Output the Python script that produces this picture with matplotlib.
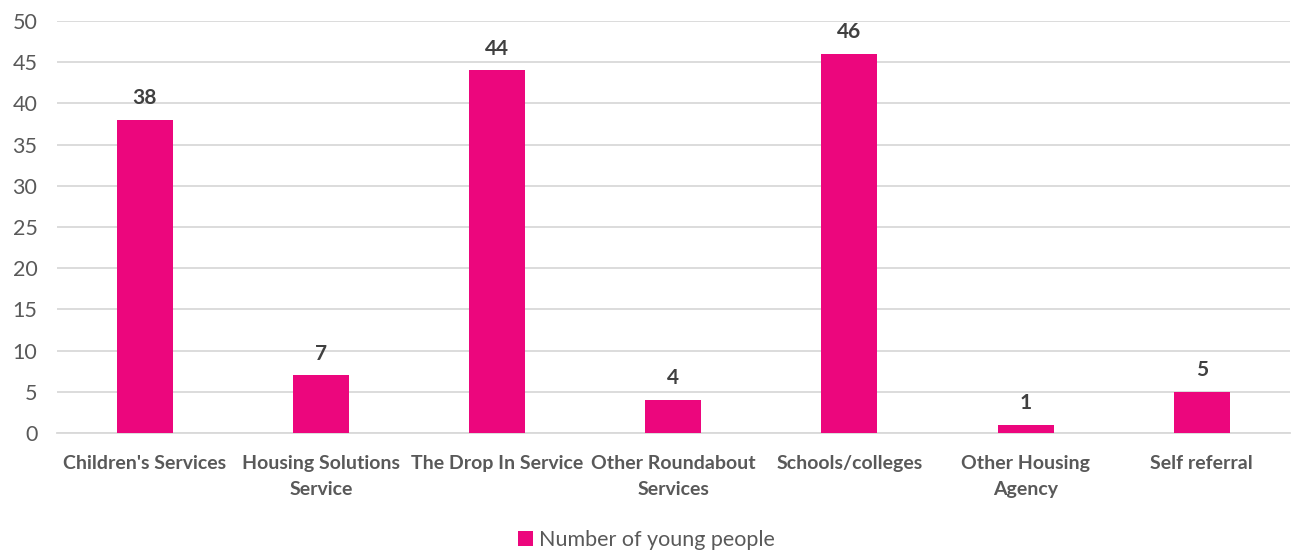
import matplotlib.pyplot as plt
import numpy as np

plt.rcParams['font.family'] = ['Lato', 'DejaVu Sans']

# data
categories = ["Children's Services", "Housing Solutions\nService", "The Drop In Service",
              "Other Roundabout\nServices", "Schools/colleges", "Other Housing\nAgency",
              "Self referral"]
values = [38, 7, 44, 4, 46, 1, 5]
series_name = "Number of young people"

pink = '#EC067D'
grid_c = '#D9D9D9'
text_c = '#595959'

fig = plt.figure(figsize=(12.93, 5.52), dpi=100)
ax = fig.add_axes([0.044, 0.2156, 0.9535, 0.7464])

x = np.arange(len(categories))
bars = ax.bar(x, values, width=0.318, color=pink, label=series_name, zorder=3)

# value labels above bars
for xi, v in zip(x, values):
    ax.text(xi, v + 1.4, str(v), ha='center', va='bottom', fontsize=15,
            fontweight='bold', color='#404040')

ax.set_xlim(-0.5, len(categories) - 0.5)
ax.set_ylim(0, 50)
ax.set_yticks(np.arange(0, 51, 5))
ax.yaxis.grid(True, color=grid_c, linewidth=1.3, zorder=0)
ax.set_xticks(x)
ax.set_xticklabels(categories, fontsize=14, fontweight='bold', color=text_c,
                   linespacing=1.6)
ax.tick_params(axis='y', labelsize=15.5, labelcolor=text_c, length=0, pad=14)
ax.tick_params(axis='x', length=0, pad=16)
for s in ['top', 'right', 'left']:
    ax.spines[s].set_visible(False)
ax.spines['bottom'].set_color(grid_c)
ax.spines['bottom'].set_linewidth(1.3)

leg = fig.legend(handles=[bars], labels=[series_name], loc='lower center',
                 bbox_to_anchor=(0.5, -0.032), frameon=False, fontsize=15.5,
                 handlelength=0.7, handleheight=0.7, handletextpad=0.3)
for t in leg.get_texts():
    t.set_color(text_c)

fig.savefig('out.png', dpi=100)
